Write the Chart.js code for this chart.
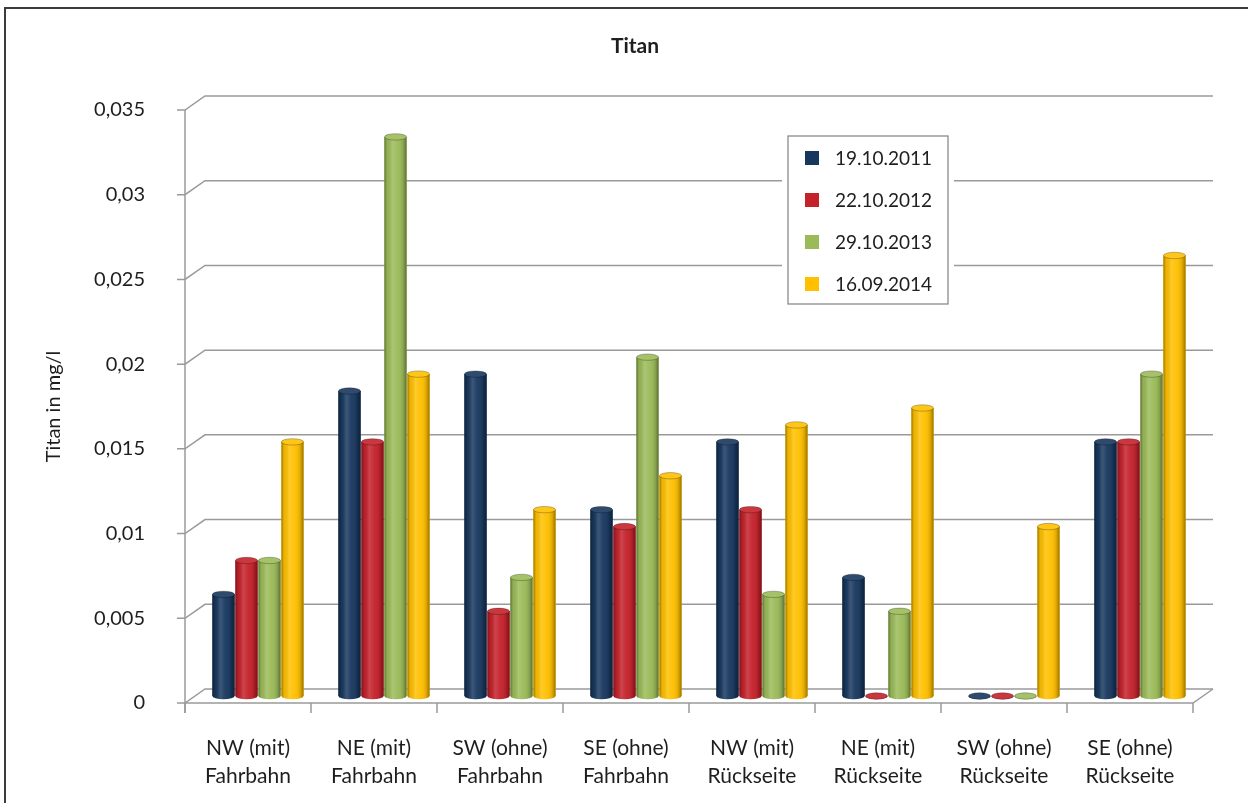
<!DOCTYPE html>
<html lang="de">
<head>
<meta charset="utf-8">
<title>Titan</title>
<script src="https://cdn.jsdelivr.net/npm/chart.js@4.4.1/dist/chart.umd.min.js"></script>
<style>
  html, body { margin: 0; padding: 0; background: #ffffff; }
  #wrap { position: relative; width: 1248px; height: 803px; }
</style>
</head>
<body>
<div id="wrap"><canvas id="c"></canvas></div>
<script>
// Messstellen (zweizeilige Beschriftung)
const categories = [
  ['NW (mit)', 'Fahrbahn'],
  ['NE (mit)', 'Fahrbahn'],
  ['SW (ohne)', 'Fahrbahn'],
  ['SE (ohne)', 'Fahrbahn'],
  ['NW (mit)', 'Rückseite'],
  ['NE (mit)', 'Rückseite'],
  ['SW (ohne)', 'Rückseite'],
  ['SE (ohne)', 'Rückseite']
];

// Titan in mg/l je Probenahmetermin
const seriesNames = ['19.10.2011', '22.10.2012', '29.10.2013', '16.09.2014'];
const values2011 = [0.006, 0.018, 0.019, 0.011, 0.015, 0.007, 0.000, 0.015];
const values2012 = [0.008, 0.015, 0.005, 0.010, 0.011, 0.000, 0.000, 0.015];
const values2013 = [0.008, 0.033, 0.007, 0.020, 0.006, 0.005, 0.000, 0.019];
const values2014 = [0.015, 0.019, 0.011, 0.013, 0.016, 0.017, 0.010, 0.026];

// Achsenbeschriftung der Werteachse
const yTickLabels = ['0', '0,005', '0,01', '0,015', '0,02', '0,025', '0,03', '0,035'];

const chartTitle = 'Titan';
const seriesColors = ['#17375E', '#C4212A', '#9BBB59', '#FFC000'];

const FONT = 'Lato, "Open Sans", "DejaVu Sans", sans-serif';
const TEXT = '#1e1e1e';
const GRID = '#9a9a9a';

// Tiefenversatz der Rückwand gegenüber der Vorderkante
const DEPTH_X = 20, DEPTH_Y = -14;

// Rahmen, Titel, Gitter der Rückwand und Achsen in Schrägansicht
const frame3d = {
  id: 'frame3d',
  beforeDraw(chart) {
    const ctx = chart.ctx;
    ctx.save();
    ctx.fillStyle = '#ffffff';
    ctx.fillRect(0, 0, chart.width, chart.height);
    ctx.strokeStyle = '#3c3c3c';
    ctx.lineWidth = 2;
    ctx.beginPath();
    ctx.moveTo(5, chart.height);
    ctx.lineTo(5, 8);
    ctx.lineTo(chart.width, 8);
    ctx.stroke();
    ctx.font = 'bold 21px ' + FONT;
    ctx.fillStyle = TEXT;
    ctx.textAlign = 'center';
    ctx.textBaseline = 'middle';
    ctx.fillText(chartTitle, 635, 46);
    ctx.restore();
  },
  beforeDatasetsDraw(chart) {
    const ctx = chart.ctx;
    const ys = chart.scales.y;
    const L = chart.chartArea.left, R = chart.chartArea.right;
    const B = ys.getPixelForValue(0);
    ctx.save();
    ctx.strokeStyle = GRID;
    ctx.lineWidth = 1.5;
    ys.ticks.forEach(t => {
      const y = ys.getPixelForValue(t.value);
      ctx.beginPath();
      ctx.moveTo(L - 8, y);
      ctx.lineTo(L, y);
      ctx.lineTo(L + DEPTH_X, y + DEPTH_Y);
      ctx.lineTo(R + DEPTH_X, y + DEPTH_Y);
      ctx.stroke();
    });
    // vordere Wertachse
    ctx.beginPath();
    ctx.moveTo(L, ys.getPixelForValue(ys.max));
    ctx.lineTo(L, B + 10);
    ctx.stroke();
    // vordere Rubrikenachse
    ctx.beginPath();
    ctx.moveTo(L, B);
    ctx.lineTo(R, B);
    ctx.lineTo(R + DEPTH_X, B + DEPTH_Y);
    ctx.stroke();
    const n = chart.data.labels.length;
    for (let i = 0; i <= n; i++) {
      const x = L + (R - L) * i / n;
      ctx.beginPath();
      ctx.moveTo(x, B);
      ctx.lineTo(x, B + 10);
      ctx.stroke();
    }
    ctx.restore();

    // Säulen stehen in der Mitte der Tiefe
    ctx.save();
    ctx.translate(DEPTH_X / 2, DEPTH_Y / 2);
  },
  afterDatasetsDraw(chart) {
    const ctx = chart.ctx;
    const ry = 3.2;
    chart.data.datasets.forEach((ds, di) => {
      const meta = chart.getDatasetMeta(di);
      meta.data.forEach(bar => {
        const w = bar.width, x = bar.x, top = bar.y, base = bar.base;
        const left = x - w / 2, right = x + w / 2;
        // Zylinderkörper mit gerundetem Fuß
        ctx.beginPath();
        ctx.moveTo(left, top);
        ctx.lineTo(left, base);
        ctx.ellipse(x, base, w / 2, ry, 0, Math.PI, 0, true);
        ctx.lineTo(right, top);
        ctx.closePath();
        ctx.fillStyle = ds.backgroundColor;
        ctx.fill();
        const g = ctx.createLinearGradient(left, 0, right, 0);
        g.addColorStop(0, 'rgba(0,0,0,0.38)');
        g.addColorStop(0.12, 'rgba(0,0,0,0.06)');
        g.addColorStop(0.35, 'rgba(255,255,255,0.16)');
        g.addColorStop(0.6, 'rgba(255,255,255,0.04)');
        g.addColorStop(0.85, 'rgba(0,0,0,0.12)');
        g.addColorStop(1, 'rgba(0,0,0,0.40)');
        ctx.fillStyle = g;
        ctx.fill();
        // Deckel
        ctx.beginPath();
        ctx.ellipse(x, top, w / 2, ry, 0, 0, Math.PI * 2);
        ctx.fillStyle = ds.backgroundColor;
        ctx.fill();
        ctx.fillStyle = 'rgba(255,255,255,0.10)';
        ctx.fill();
        ctx.strokeStyle = 'rgba(0,0,0,0.25)';
        ctx.lineWidth = 1;
        ctx.stroke();
      });
    });
    ctx.restore();
  },
  afterDraw(chart) {
    // Legende im Diagrammfeld
    const ctx = chart.ctx;
    const bx = 788, by = 136, bw = 160, bh = 168;
    ctx.save();
    ctx.fillStyle = '#ffffff';
    ctx.fillRect(bx - 6, by - 6, bw + 12, bh + 12);
    ctx.strokeStyle = '#808080';
    ctx.lineWidth = 1.2;
    ctx.strokeRect(bx, by, bw, bh);
    ctx.font = '19px ' + FONT;
    ctx.textBaseline = 'middle';
    ctx.textAlign = 'left';
    chart.data.datasets.forEach((ds, i) => {
      const cy = by + 22 + i * 42;
      ctx.fillStyle = ds.backgroundColor;
      ctx.fillRect(bx + 17, cy - 7, 14, 14);
      ctx.fillStyle = TEXT;
      ctx.fillText(ds.label, bx + 47, cy + 1);
    });
    ctx.restore();
  }
};

const seriesValues = [values2011, values2012, values2013, values2014];

new Chart(document.getElementById('c'), {
  type: 'bar',
  data: {
    labels: categories,
    datasets: seriesNames.map((name, i) => ({
      label: name,
      data: seriesValues[i],
      backgroundColor: seriesColors[i],
      borderWidth: 0,
      categoryPercentage: 0.73,
      barPercentage: 0.96
    }))
  },
  options: {
    responsive: true,
    maintainAspectRatio: false,
    animation: false,
    devicePixelRatio: 1,
    layout: { padding: { left: 40, right: 55, top: 110, bottom: 0 } },
    plugins: {
      legend: { display: false },
      tooltip: { enabled: false },
      title: { display: false }
    },
    scales: {
      x: {
        grid: { display: false },
        border: { display: false },
        ticks: {
          color: TEXT,
          font: { family: FONT, size: 21, lineHeight: 1.33 },
          padding: 23,
          maxRotation: 0,
          autoSkip: false
        },
        afterFit(s) { s.height = 100; }
      },
      y: {
        min: 0,
        max: 0.035,
        grid: { display: false },
        border: { display: false },
        ticks: {
          stepSize: 0.005,
          color: TEXT,
          font: { family: FONT, size: 20 },
          padding: 32,
          callback: (v, i) => yTickLabels[i]
        },
        title: {
          display: true,
          text: 'Titan in mg/l',
          color: TEXT,
          font: { family: FONT, size: 20 },
          padding: { top: 2, bottom: 0 }
        },
        afterFit(s) { s.width = 145; }
      }
    }
  },
  plugins: [frame3d]
});
</script>
</body>
</html>
